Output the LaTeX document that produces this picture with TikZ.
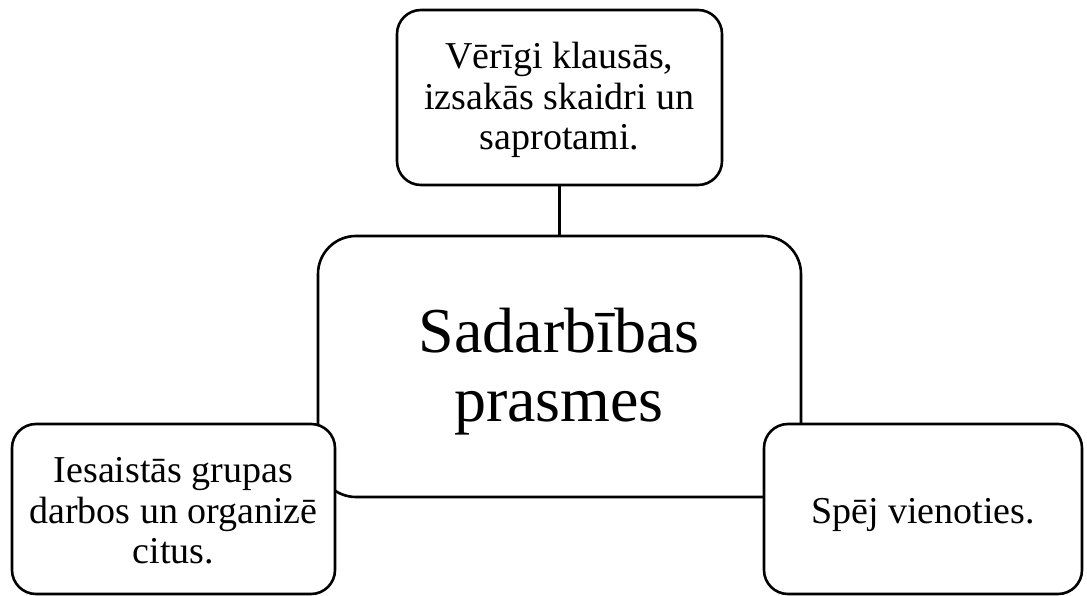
\documentclass[tikz,border=0pt]{standalone}
\usepackage{fontspec}
\setmainfont{Liberation Serif}
\begin{document}
\begin{tikzpicture}[x=1pt,y=-1pt,
  box/.style={draw=black, line width=2.6pt, fill=white, rounded corners=24pt, inner sep=0pt},
  bigbox/.style={box, rounded corners=38pt},
  txt/.style={align=center, inner sep=0pt, font=\fontsize{38}{40.5}\selectfont},
  bigtxt/.style={align=center, inner sep=0pt, font=\fontsize{64}{69}\selectfont},
  link/.style={draw=black, line width=2.4pt}]
\useasboundingbox (0,0) rectangle (1087,596);
\node[box, minimum width=325pt, minimum height=175pt] (top) at (559.5,97.5) {};
\node[txt] (toptext) at (559.5,100) {Vērīgi klausās,\\izsakās skaidri un\\saprotami.};
\node[bigbox, minimum width=483pt, minimum height=261pt] (center) at (559.5,366.5) {};
\draw[link] (top.south) -- (center.north);
\node[bigtxt] (centertext) at (559,372) {Sadarbības\\prasmes};
\node[box, minimum width=323pt, minimum height=170pt] (left) at (173.5,509) {};
\node[txt] (lefttext) at (173.5,511) {Iesaistās grupas\\darbos un organizē\\citus.};
\node[box, minimum width=318pt, minimum height=170pt] (right) at (923,509) {};
\node[txt, anchor=base] (righttext) at (923,523) {Spēj vienoties.};
\end{tikzpicture}
\end{document}
